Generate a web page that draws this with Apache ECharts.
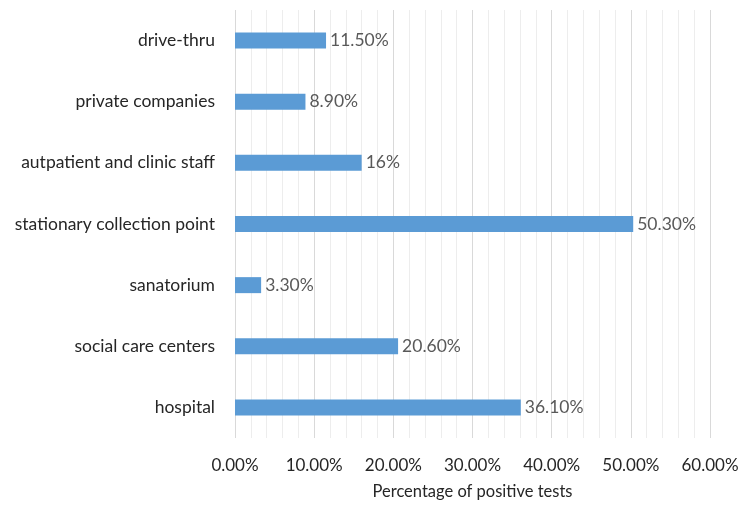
<!DOCTYPE html>
<html><head><meta charset="utf-8">
<script src="https://cdn.jsdelivr.net/npm/echarts@6/dist/echarts.min.js"></script>
<style>html,body{margin:0;padding:0;background:#fff}#c{width:756px;height:505px}</style>
</head><body><div id="c"></div>
<script>
const categories = ['hospital', 'social care centers', 'sanatorium', 'stationary collection point', 'autpatient and clinic staff', 'private companies', 'drive-thru'];
const values = [36.1, 20.6, 3.3, 50.3, 16, 8.9, 11.5];
const valueLabels = ['36.10%', '20.60%', '3.30%', '50.30%', '16%', '8.90%', '11.50%'];
const tickValues = [0, 10, 20, 30, 40, 50, 60];
const axisTitle = 'Percentage of positive tests';

const font = 'Lato, "Open Sans", sans-serif';
const chart = echarts.init(document.getElementById('c'));
chart.setOption({
  animation: false,
  grid: {left: 235, right: 46, top: 10, bottom: 67},
  xAxis: {
    type: 'value', min: tickValues[0], max: tickValues[tickValues.length - 1], interval: 10,
    name: axisTitle, nameLocation: 'middle', nameGap: 45,
    nameTextStyle: {color: '#262626', fontSize: 16.5, fontFamily: font},
    axisLine: {show: false}, axisTick: {show: false},
    axisLabel: {color: '#262626', fontSize: 17, fontFamily: font, margin: 19,
      formatter: v => v.toFixed(2) + '%'},
    splitLine: {show: true, lineStyle: {color: '#D9D9D9', width: 1}},
    minorTick: {show: false, splitNumber: 5},
    minorSplitLine: {show: true, lineStyle: {color: '#EDEDED', width: 1}}
  },
  yAxis: {
    type: 'category', data: categories,
    axisLine: {show: false}, axisTick: {show: false},
    axisLabel: {color: '#262626', fontSize: 17.5, fontFamily: font, margin: 20}
  },
  series: [{
    type: 'bar', data: values, barWidth: 16,
    itemStyle: {color: '#5B9BD5'},
    label: {show: true, position: 'right', distance: 4, color: '#595959', fontSize: 17.5, fontFamily: font,
      formatter: p => valueLabels[p.dataIndex]}
  }]
});
</script></body></html>
